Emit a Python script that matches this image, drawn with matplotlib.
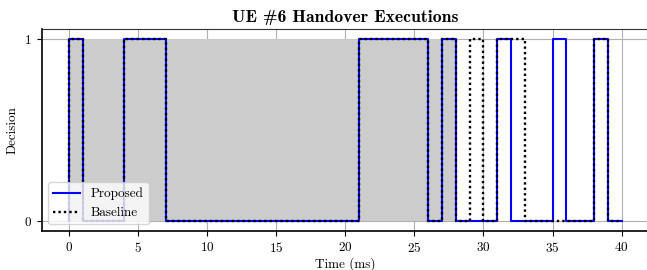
import numpy as np
import matplotlib
matplotlib.use("Agg")
import matplotlib.pyplot as plt

# Data
time_ms = list(range(0, 41))
proposed = [1, 0, 0, 0, 1, 1, 1, 0, 0, 0, 0, 0, 0, 0, 0, 0, 0, 0, 0, 0, 0,
            1, 1, 1, 1, 1, 0, 1, 0, 0, 0, 1, 0, 0, 0, 1, 0, 0, 1, 0, 0]
baseline = [1, 0, 0, 0, 1, 1, 1, 0, 0, 0, 0, 0, 0, 0, 0, 0, 0, 0, 0, 0, 0,
            1, 1, 1, 1, 1, 0, 1, 0, 1, 0, 1, 1, 0, 0, 0, 0, 0, 1, 0, 0]
initial_state = 0
shade_start = 0
shade_end = 28
xticks = [0, 5, 10, 15, 20, 25, 30, 35, 40]

plt.rcParams['font.family'] = 'serif'
plt.rcParams['font.serif'] = ['cmr10', 'DejaVu Serif']
plt.rcParams['axes.unicode_minus'] = False
plt.rcParams['axes.formatter.use_mathtext'] = True

fig = plt.figure(figsize=(6.47, 2.70), dpi=100)
ax = fig.add_axes([41.6/647, 39/270, 607.6/647, 202/270])

t = np.array(time_ms)
tx = np.concatenate([[t[0]], t])
py = np.concatenate([[initial_state], proposed])
by = np.concatenate([[initial_state], baseline])

ax.fill_between(t, 0, 1, where=(t >= shade_start) & (t <= shade_end),
                color='#cccccc', linewidth=0, zorder=1)
ax.step(tx, py, where='post', color='blue', linewidth=1.5, label='Proposed', zorder=3)
ax.step(tx, by, where='post', color='black', linestyle=(0, (1, 1.3)), linewidth=1.7,
        label='Baseline', zorder=4)

ax.set_xticks(xticks)
ax.set_yticks([0, 1])
ax.set_xlim(-2, 42)
ax.set_ylim(-0.055, 1.055)
ax.grid(True, color='#b0b0b0', linewidth=0.8, zorder=0)
ax.set_axisbelow(True)
ax.tick_params(labelsize=9.5)
ax.set_xlabel('Time (ms)', fontsize=9.5, labelpad=2)
ax.set_ylabel('Decision', fontsize=9.5)
ax.set_title('UE #6 Handover Executions', fontsize=12.7, fontfamily='cmb10', pad=5)
for s in ['left', 'bottom']:
    ax.spines[s].set_linewidth(1.2)
ax.spines['top'].set_color('#333333')
ax.spines['right'].set_visible(False)

ax.legend(loc='lower left', fontsize=9.5, framealpha=0.8)

fig.savefig('out.png', dpi=100)
